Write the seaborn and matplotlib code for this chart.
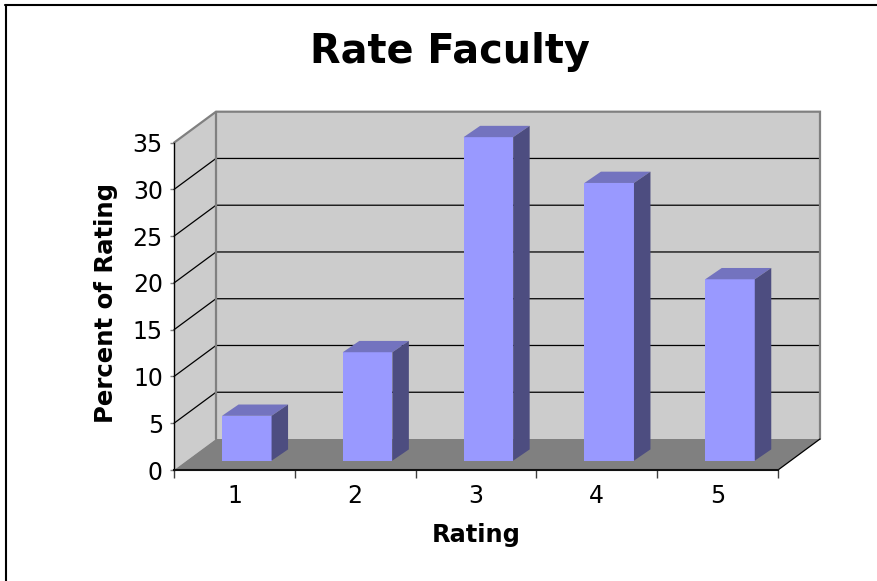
import matplotlib
matplotlib.use('Agg')
import matplotlib.pyplot as plt
import matplotlib.transforms as mtrans
from matplotlib.lines import Line2D
from matplotlib.patches import Polygon
import numpy as np
import pandas as pd
import seaborn as sns

# data
ratings = ['1', '2', '3', '4', '5']
percent = [4.8, 11.6, 34.6, 29.7, 19.4]
y_ticks = [0, 5, 10, 15, 20, 25, 30, 35]

W, H = 877, 581
sns.set_style('white')
plt.rcParams['font.family'] = ['DejaVu Sans']
plt.rcParams['text.color'] = 'black'
plt.rcParams['axes.labelcolor'] = 'black'
plt.rcParams['xtick.labelcolor'] = 'black'
plt.rcParams['ytick.labelcolor'] = 'black'

fig = plt.figure(figsize=(W / 100, H / 100), dpi=100)
# front plane of the fake 3d box, in pixels
left, right, top, bottom = 174, 778, 142.7, 470
ax = fig.add_axes([left / W, 1 - bottom / H, (right - left) / W, (bottom - top) / H])

df = pd.DataFrame({'rating': ratings, 'percent': percent})
sns.barplot(data=df, x='rating', y='percent', color='#9999ff', saturation=1,
            width=0.41, ax=ax, zorder=5, linewidth=0)
ax.set_xlim(-0.5, 4.5)
ax.set_ylim(0, 35)

# depth of the box and of the bars, in data units
px_x = 5 / (right - left)
px_y = 35 / (bottom - top)
dx, dy = 42 * px_x, 31 * px_y
bar_dx, bar_dy = 16.5 * px_x, 11.3 * px_y

# walls and floor
ax.add_patch(Polygon([(-0.5, 0), (-0.5 + dx, dy), (-0.5 + dx, 35 + dy), (-0.5, 35)],
                     fc='#cccccc', ec='none', clip_on=False, zorder=1))
ax.add_patch(Polygon([(-0.5 + dx, dy), (4.5 + dx, dy), (4.5 + dx, 35 + dy), (-0.5 + dx, 35 + dy)],
                     fc='#cccccc', ec='none', clip_on=False, zorder=1))
ax.add_patch(Polygon([(-0.5, 0), (4.5, 0), (4.5 + dx, dy), (-0.5 + dx, dy)],
                     fc='#808080', ec='none', clip_on=False, zorder=1.5))

# gridlines on both walls
for v in y_ticks[1:-1]:
    ax.plot([-0.5, -0.5 + dx, 4.5 + dx], [v, v + dy, v + dy], color='black', lw=0.9,
            clip_on=False, zorder=2, solid_joinstyle='miter')

# box outline
ax.plot([-0.5, -0.5 + dx, 4.5 + dx, 4.5 + dx], [35, 35 + dy, 35 + dy, dy], color='#808080',
        lw=1.6, clip_on=False, zorder=3, solid_joinstyle='miter')
ax.plot([-0.5 + dx, -0.5 + dx], [35 + dy, dy], color='#808080', lw=1.6, clip_on=False, zorder=3)
ax.plot([4.5, 4.5 + dx], [0, dy], color='black', lw=0.9, clip_on=False, zorder=3)

# bars stand a bit behind the front plane
bar_tf = mtrans.offset_copy(ax.transData, fig, x=12.4, y=9.3, units='dots')
for p in ax.patches[:]:
    if not isinstance(p, matplotlib.patches.Rectangle):
        continue
    x0, w, h = p.get_x(), p.get_width(), p.get_height()
    x1 = x0 + w
    p.set_transform(bar_tf)
    p.set_clip_on(False)
    ax.add_patch(Polygon([(x0, h), (x1, h), (x1 + bar_dx, h + bar_dy), (x0 + bar_dx, h + bar_dy)],
                         fc='#7373bf', ec='none', transform=bar_tf, clip_on=False, zorder=5))
    ax.add_patch(Polygon([(x1, 0), (x1 + bar_dx, bar_dy), (x1 + bar_dx, h + bar_dy), (x1, h)],
                         fc='#4d4d80', ec='none', transform=bar_tf, clip_on=False, zorder=5))

# axes lines and ticks
sns.despine(ax=ax, top=True, right=True)
ax.spines['left'].set_color('black')
ax.spines['left'].set_linewidth(1)
ax.spines['bottom'].set_color('#111111')
ax.spines['bottom'].set_linewidth(1.5)
for s in ax.spines.values():
    s.set_zorder(6)

ax.set_yticks(y_ticks)
ax.tick_params(axis='y', length=3, width=1, color='#808080', labelsize=17, pad=5,
               left=True, labelcolor='black')
ax.set_xticks(np.arange(-0.5, 5), [''] * 6)
ax.set_xticks(range(5), ratings, minor=True)
ax.tick_params(axis='x', which='major', length=6, width=1, color='#404040', bottom=True)
ax.tick_params(axis='x', which='minor', length=0, labelsize=17, pad=10, bottom=False)

ax.set_xlabel('Rating', fontsize=17.3, fontweight='bold', va='center')
ax.xaxis.set_label_coords(0.5, -(535 - bottom) / (bottom - top))
ax.set_ylabel('Percent of Rating', fontsize=17.6, fontweight='bold', va='center')
ax.yaxis.set_label_coords((106 - left) / (right - left), (bottom - 303) / (bottom - top))

fig.text(450 / W, 1 - 51.5 / H, 'Rate Faculty', fontsize=28.7, fontweight='bold',
         ha='center', va='center')

# chart frame, only top and left are inside the picture
fig.add_artist(Line2D([5.5 / W, 5.5 / W], [0, 1 - 5 / H], color='black', lw=1.5))
fig.add_artist(Line2D([5 / W, 1], [1 - 5 / H, 1 - 5 / H], color='black', lw=1.5))

fig.savefig('out.png', dpi=100)
